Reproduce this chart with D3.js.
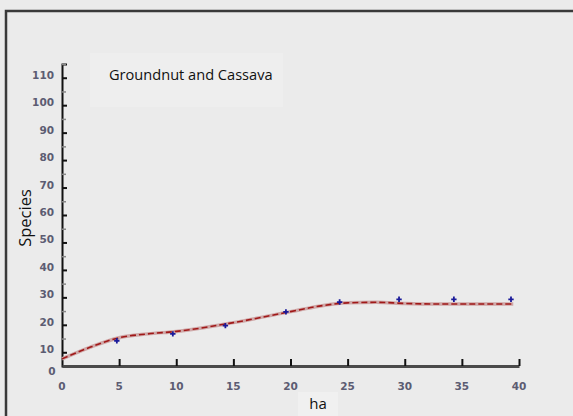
<!DOCTYPE html>
<html>
<head>
<meta charset="utf-8">
<script src="https://cdn.jsdelivr.net/npm/d3@7"></script>
<style>
  body { margin: 0; background: #ebebeb; }
  svg { display: block; }
</style>
</head>
<body>
<div id="chart"></div>
<script>
// observed points (ha, species)
var pointHa = [4.8, 9.7, 14.3, 19.6, 24.3, 29.5, 34.3, 39.3];
var pointSpecies = [14.2, 16.7, 19.7, 24.7, 28.3, 29.3, 29.3, 29.3];

// fitted curve
var curveHa = [0, 2.5, 5, 7.5, 10, 15, 20, 22.5, 25, 27.5, 30, 32.5, 35, 39.5];
var curveSpecies = [7.6, 11.9, 15.3, 16.7, 17.6, 20.8, 24.8, 26.8, 28.0, 28.2, 27.8, 27.6, 27.6, 27.6];

var xTicks = [0, 5, 10, 15, 20, 25, 30, 35, 40];
var yTicks = [10, 20, 30, 40, 50, 60, 70, 80, 90, 100, 110];
var yMinor = [15, 25, 35, 45, 55, 65, 75, 85, 95, 105, 115];

var chartTitle = "Groundnut and Cassava";
var xTitle = "ha";
var yTitle = "Species";

var W = 573, H = 416;

var svg = d3.select("#chart").append("svg")
    .attr("width", W)
    .attr("height", H);

svg.append("rect")
    .attr("width", W)
    .attr("height", H)
    .attr("fill", "#ebebeb");

// frame (only top and left edges show)
svg.append("path")
    .attr("d", "M6," + H + "V11H" + W)
    .attr("fill", "none")
    .attr("stroke", "#3a3a3a")
    .attr("stroke-width", 2.5);

var x = d3.scaleLinear().domain([0, 40]).range([62, 519]);
var y = d3.scaleLinear().domain([5, 115]).range([366, 64]);

var tickFont = function (sel) {
    sel.attr("font-family", "DejaVu Sans, sans-serif")
        .attr("font-size", 10.5)
        .attr("font-weight", "bold")
        .attr("fill", "#5c5c72");
};

// legend box
svg.append("rect")
    .attr("x", 90).attr("y", 53)
    .attr("width", 193).attr("height", 54)
    .attr("fill", "#eeeeee");

svg.append("text")
    .attr("x", 109).attr("y", 80)
    .attr("font-family", "Open Sans, sans-serif")
    .attr("font-size", 14.6)
    .attr("fill", "#111")
    .text(chartTitle);

// y axis
var yAxis = svg.append("g")
    .attr("transform", "translate(62,0)")
    .call(d3.axisRight(y).tickValues(yTicks).tickSize(5).tickFormat(""));
yAxis.select(".domain").attr("stroke", "#111").attr("stroke-width", 2);
yAxis.selectAll(".tick line").attr("stroke", "#111").attr("stroke-width", 2);

svg.append("g")
    .attr("transform", "translate(62,0)")
    .call(d3.axisRight(y).tickValues(yMinor).tickSize(4).tickFormat(""))
    .call(function (g) {
        g.select(".domain").remove();
        g.selectAll(".tick line").attr("stroke", "#888").attr("stroke-width", 1.5);
    });

svg.append("g")
    .selectAll("text")
    .data(yTicks)
    .enter().append("text")
    .attr("x", 54)
    .attr("y", function (d) { return y(d) - 2; })
    .attr("text-anchor", "end")
    .attr("dominant-baseline", "middle")
    .call(tickFont)
    .text(function (d) { return d; });

svg.append("text")
    .attr("x", 52).attr("y", 372)
    .attr("text-anchor", "middle")
    .attr("dominant-baseline", "middle")
    .call(tickFont)
    .text("0");

// x axis
var xAxis = svg.append("g")
    .attr("transform", "translate(0,366)")
    .call(d3.axisTop(x).tickValues(xTicks.slice(1)).tickSize(7).tickSizeOuter(0).tickFormat(""));
xAxis.select(".domain").attr("stroke", "#4a4a4a").attr("stroke-width", 3);
xAxis.selectAll(".tick line").attr("stroke", "#111").attr("stroke-width", 2);

svg.append("g")
    .selectAll("text")
    .data(xTicks)
    .enter().append("text")
    .attr("x", function (d) { return x(d); })
    .attr("y", 387)
    .attr("text-anchor", "middle")
    .attr("dominant-baseline", "middle")
    .call(tickFont)
    .text(function (d) { return d; });

// axis titles
svg.append("rect")
    .attr("x", 298).attr("y", 392)
    .attr("width", 40).attr("height", 24)
    .attr("fill", "#f0f0f0");

svg.append("text")
    .attr("x", 318).attr("y", 409)
    .attr("text-anchor", "middle")
    .attr("font-family", "Open Sans, sans-serif")
    .attr("font-size", 15)
    .attr("fill", "#111")
    .text(xTitle);

svg.append("text")
    .attr("transform", "translate(31,218) rotate(-90)")
    .attr("text-anchor", "middle")
    .attr("font-family", "Open Sans, sans-serif")
    .attr("font-size", 16.5)
    .attr("fill", "#111")
    .text(yTitle);

// fitted curve
var curveData = curveHa.map(function (d, i) { return { ha: d, s: curveSpecies[i] }; });
var line = d3.line()
    .x(function (d) { return x(d.ha); })
    .y(function (d) { return y(d.s); })
    .curve(d3.curveMonotoneX);

svg.append("path")
    .datum(curveData)
    .attr("d", line)
    .attr("fill", "none")
    .attr("stroke", "#cfa8a8")
    .attr("stroke-width", 3.5);

svg.append("path")
    .datum(curveData)
    .attr("d", line)
    .attr("fill", "none")
    .attr("stroke", "#a01818")
    .attr("stroke-width", 1.6)
    .attr("stroke-dasharray", "6,3");

// points
var pointData = pointHa.map(function (d, i) { return { ha: d, s: pointSpecies[i] }; });
svg.append("g")
    .selectAll("path")
    .data(pointData)
    .enter().append("path")
    .attr("transform", function (d) { return "translate(" + x(d.ha) + "," + y(d.s) + ")"; })
    .attr("d", d3.symbol().type(d3.symbolCross).size(16))
    .attr("fill", "#1a1a9a");
</script>
</body>
</html>
